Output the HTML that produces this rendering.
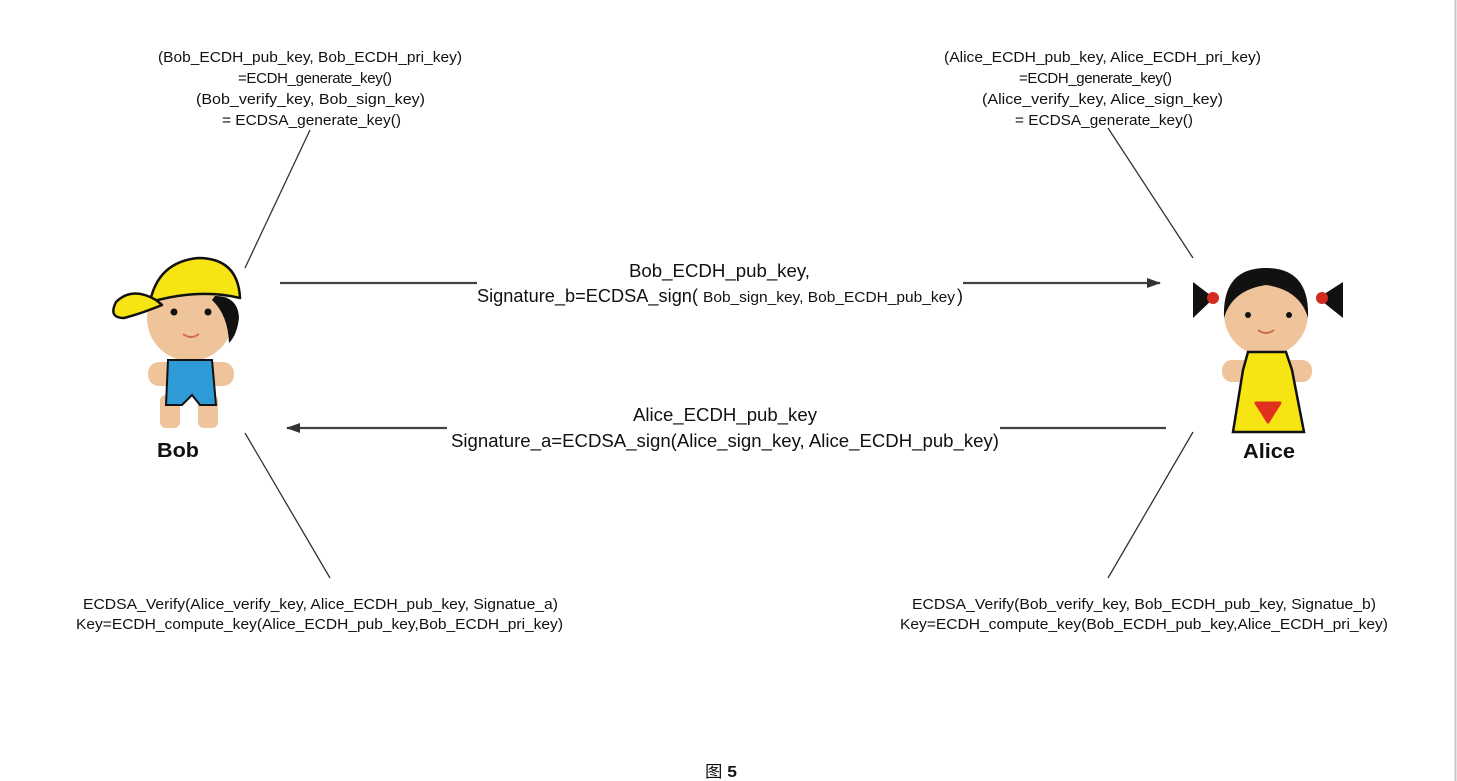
<!DOCTYPE html>
<html><head><meta charset="utf-8"><style>
html,body{margin:0;padding:0;background:#fff;}
svg{display:block;}
text{font-family:"Liberation Sans","Noto Sans CJK SC",sans-serif;fill:#111;}
</style></head><body>
<svg width="1457" height="781" viewBox="0 0 1457 781" xmlns="http://www.w3.org/2000/svg">
<rect width="1457" height="781" fill="#fff"/>
<line x1="1455.5" y1="0" x2="1455.5" y2="781" stroke="#c8c8c8" stroke-width="2"/>
<defs>
<marker id="ah" markerWidth="14" markerHeight="10" refX="13" refY="5" orient="auto" markerUnits="userSpaceOnUse">
<path d="M0,0 L14,5 L0,10 Z" fill="#333"/></marker>
</defs>

<g font-size="15">
<text x="158" y="62" textLength="304" lengthAdjust="spacingAndGlyphs">(Bob_ECDH_pub_key, Bob_ECDH_pri_key)</text>
<text x="238" y="83" textLength="154" lengthAdjust="spacing">=ECDH_generate_key()</text>
<text x="196" y="104" textLength="229" lengthAdjust="spacingAndGlyphs">(Bob_verify_key, Bob_sign_key)</text>
<text x="222" y="125" textLength="179" lengthAdjust="spacingAndGlyphs">= ECDSA_generate_key()</text>

<text x="944" y="62" textLength="317" lengthAdjust="spacingAndGlyphs">(Alice_ECDH_pub_key, Alice_ECDH_pri_key)</text>
<text x="1019" y="83" textLength="153" lengthAdjust="spacing">=ECDH_generate_key()</text>
<text x="982" y="104" textLength="241" lengthAdjust="spacingAndGlyphs">(Alice_verify_key, Alice_sign_key)</text>
<text x="1015" y="125" textLength="178" lengthAdjust="spacingAndGlyphs">= ECDSA_generate_key()</text>

<text x="83" y="609" textLength="475" lengthAdjust="spacingAndGlyphs">ECDSA_Verify(Alice_verify_key, Alice_ECDH_pub_key, Signatue_a)</text>
<text x="76" y="629" textLength="487" lengthAdjust="spacingAndGlyphs">Key=ECDH_compute_key(Alice_ECDH_pub_key,Bob_ECDH_pri_key)</text>
<text x="912" y="609" textLength="464" lengthAdjust="spacingAndGlyphs">ECDSA_Verify(Bob_verify_key, Bob_ECDH_pub_key, Signatue_b)</text>
<text x="900" y="629" textLength="488" lengthAdjust="spacingAndGlyphs">Key=ECDH_compute_key(Bob_ECDH_pub_key,Alice_ECDH_pri_key)</text>
</g>

<g font-size="18">
<text x="629" y="277" textLength="181" lengthAdjust="spacingAndGlyphs">Bob_ECDH_pub_key,</text>
<text x="477" y="302" textLength="221" lengthAdjust="spacingAndGlyphs">Signature_b=ECDSA_sign(</text>
<text x="703" y="302" font-size="15" textLength="252" lengthAdjust="spacingAndGlyphs">Bob_sign_key, Bob_ECDH_pub_key</text>
<text x="957" y="302" textLength="6" lengthAdjust="spacingAndGlyphs">)</text>
<text x="633" y="421" textLength="184" lengthAdjust="spacingAndGlyphs">Alice_ECDH_pub_key</text>
<text x="451" y="447" textLength="548" lengthAdjust="spacingAndGlyphs">Signature_a=ECDSA_sign(Alice_sign_key, Alice_ECDH_pub_key)</text>
</g>

<text x="705" y="777" font-size="16" textLength="32" lengthAdjust="spacingAndGlyphs">图 <tspan font-weight="bold">5</tspan></text>

<g stroke="#333" stroke-width="1.3">
<line x1="245" y1="268" x2="310" y2="130"/>
<line x1="245" y1="433" x2="330" y2="578"/>
<line x1="1108" y1="128" x2="1193" y2="258"/>
<line x1="1193" y1="432" x2="1108" y2="578"/>
</g>
<g stroke="#444" stroke-width="2.2">
<line x1="280" y1="283" x2="477" y2="283"/>
<line x1="963" y1="283" x2="1160" y2="283" marker-end="url(#ah)"/>
<line x1="1000" y1="428" x2="1166" y2="428"/>
<line x1="447" y1="428" x2="287" y2="428" marker-end="url(#ah)"/>
</g>

<!-- Bob -->
<g>
<rect x="148" y="362" width="86" height="24" rx="11" fill="#f0c49a"/>
<rect x="160" y="395" width="20" height="33" rx="6" fill="#f0c49a"/>
<rect x="198" y="395" width="20" height="33" rx="6" fill="#f0c49a"/>
<circle cx="190" cy="318" r="43" fill="#f0c49a"/>
<path d="M215,296 Q238,296 239,318 Q237,335 229,343 Q228,315 212,300 Z" fill="#111"/>
<path d="M168,360 L212,360 L216,405 L200,405 L192,395 L182,405 L166,405 Z" fill="#2e9ad6" stroke="#111" stroke-width="2"/>
<path d="M150,302 Q158,262 198,258 Q238,258 240,298 Q200,288 150,302 Z" fill="#f6e513" stroke="#111" stroke-width="2.5" stroke-linejoin="round"/>
<path d="M156,300 Q132,286 116,302 Q108,318 124,318 Q140,314 162,305 Z" fill="#f6e513" stroke="#111" stroke-width="2.5" stroke-linejoin="round"/>
<circle cx="174" cy="312" r="3.5" fill="#111"/>
<circle cx="208" cy="312" r="3.5" fill="#111"/>
<path d="M183,334 Q191,340 199,334" stroke="#d06b4a" stroke-width="2" fill="none"/>
<text x="157" y="457" font-size="20" font-weight="bold" fill="#222" textLength="42" lengthAdjust="spacingAndGlyphs">Bob</text>
</g>

<!-- Alice -->
<g>
<rect x="1222" y="360" width="90" height="22" rx="10" fill="#f0c49a"/>
<circle cx="1266" cy="314" r="42" fill="#f0c49a"/>
<path d="M1224,318 Q1222,268 1266,268 Q1310,268 1308,318 Q1300,290 1266,285 Q1232,290 1224,318 Z" fill="#111"/>
<path d="M1214,298 L1193,282 L1193,318 Z" fill="#111"/>
<path d="M1318,298 L1343,282 L1343,318 Z" fill="#111"/>
<circle cx="1213" cy="298" r="6" fill="#d42a1f"/>
<circle cx="1322" cy="298" r="6" fill="#d42a1f"/>
<circle cx="1248" cy="315" r="3" fill="#111"/>
<circle cx="1289" cy="315" r="3" fill="#111"/>
<path d="M1258,330 Q1266,336 1274,330" stroke="#d06b4a" stroke-width="2" fill="none"/>
<path d="M1248,352 L1286,352 L1292,370 L1304,432 L1233,432 L1243,370 Z" fill="#f6e513" stroke="#111" stroke-width="2.5"/>
<path d="M1256,403 L1280,403 L1268,422 Z" fill="#e0301e" stroke="#e0301e" stroke-width="3" stroke-linejoin="round"/>
<text x="1243" y="458" font-size="20" font-weight="bold" fill="#222" textLength="52" lengthAdjust="spacingAndGlyphs">Alice</text>
</g>
</svg>
</body></html>
